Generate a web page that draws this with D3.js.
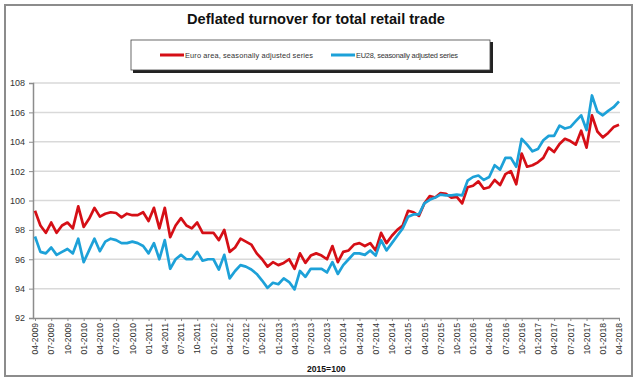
<!DOCTYPE html>
<html><head><meta charset="utf-8">
<script src="https://cdn.jsdelivr.net/npm/d3@7/dist/d3.min.js"></script>
<style>body{margin:0;background:#fff}svg{display:block;font-family:"Liberation Sans",Arial,sans-serif}</style>
</head><body><svg id="c" width="640" height="383"></svg>
<script>
const tickLabels = ["04-2009","07-2009","10-2009","01-2010","04-2010","07-2010","10-2010","01-2011","04-2011","07-2011","10-2011","01-2012","04-2012","07-2012","10-2012","01-2013","04-2013","07-2013","10-2013","01-2014","04-2014","07-2014","10-2014","01-2015","04-2015","07-2015","10-2015","01-2016","04-2016","07-2016","10-2016","01-2017","04-2017","07-2017","10-2017","01-2018","04-2018"];
const yTicks = [92,94,96,98,100,102,104,106,108];
const euroArea = [99.3,98.3,97.8,98.5,97.8,98.3,98.5,98.1,99.6,98.2,98.75,99.5,98.9,99.1,99.2,99.15,98.85,99.1,99.0,99.0,99.2,98.6,99.5,98.1,99.5,97.5,98.3,98.8,98.3,98.1,98.5,97.8,97.8,97.8,97.3,98.0,96.5,96.8,97.4,97.2,97.0,96.4,96.0,95.5,95.8,95.6,95.75,96.0,95.35,96.4,95.75,96.25,96.4,96.25,96.0,96.9,95.8,96.5,96.6,97.0,97.1,96.9,97.1,96.6,97.8,97.1,97.6,98.0,98.3,99.3,99.2,98.95,99.8,100.3,100.2,100.5,100.45,100.2,100.25,99.8,100.9,101.0,101.3,100.8,100.9,101.4,101.05,101.8,102.0,101.1,103.2,102.3,102.4,102.6,102.9,103.6,103.3,103.85,104.2,104.05,103.8,104.75,103.6,105.8,104.7,104.3,104.6,105.0,105.15];
const eu28 = [97.55,96.5,96.4,96.8,96.3,96.5,96.7,96.4,97.4,95.8,96.6,97.4,96.55,97.2,97.4,97.3,97.1,97.1,97.2,97.1,96.9,96.4,97.1,96.0,97.3,95.35,96.0,96.3,96.0,96.0,96.5,95.9,96.0,96.0,95.3,96.3,94.7,95.2,95.6,95.5,95.3,95.0,94.55,94.05,94.4,94.3,94.7,94.45,93.95,95.2,94.8,95.35,95.35,95.35,95.1,95.8,95.0,95.6,96.0,96.4,96.4,96.3,96.6,96.25,97.3,96.6,97.1,97.6,98.1,98.9,99.05,99.05,99.8,100.05,100.2,100.4,100.35,100.35,100.4,100.35,101.35,101.6,101.7,101.4,101.6,102.4,102.1,102.9,102.9,102.3,104.2,103.8,103.35,103.5,104.1,104.4,104.4,105.1,104.9,105.0,105.4,105.8,104.8,107.15,106.05,105.8,106.1,106.35,106.75];
const seriesNames = ["Euro area, seasonally adjusted series","EU28, seasonally adjusted series"];
const colors = ["#d50f16","#1da1d8"];

const svg = d3.select("#c");
// outer frame
svg.append("rect").attr("x",5).attr("y",5).attr("width",627).attr("height",371)
  .attr("fill","#fff").attr("stroke","#8c8c8c").attr("stroke-width",2);

const x = d3.scaleLinear().domain([0,108]).range([35,619]);
const y = d3.scaleLinear().domain([92,108]).range([318,83]);

// gridlines
svg.append("g").selectAll("line").data(yTicks.filter(v=>v>92)).join("line")
  .attr("x1",33).attr("x2",620).attr("y1",d=>y(d)).attr("y2",d=>y(d))
  .attr("stroke","#d9d9d9").attr("stroke-width",1.5);

// y axis
const ya = svg.append("g").attr("transform","translate(33,0)")
  .call(d3.axisLeft(y).tickValues(yTicks).tickSize(4).tickPadding(4).tickFormat(d3.format("d")));
ya.select(".domain").attr("stroke","#8c8c8c").attr("stroke-width",1.5);
ya.selectAll(".tick line").attr("stroke","#8c8c8c");
ya.selectAll("text").attr("font-size",9).attr("fill","#333").attr("font-family","Liberation Sans, Arial");

// x axis
const xa = svg.append("g").attr("transform","translate(0,318)")
  .call(d3.axisBottom(x).tickValues(d3.range(0,109,3)).tickSize(3).tickFormat((d,i)=>tickLabels[i]));
xa.select(".domain").attr("stroke","#8c8c8c").attr("stroke-width",1.5).attr("d","M33,0.5H620");
xa.selectAll(".tick line").attr("stroke","#8c8c8c");
xa.selectAll("text").attr("font-size",8.6).attr("fill","#333").attr("font-family","Liberation Sans, Arial")
  .attr("transform","rotate(-90)").attr("text-anchor","end").attr("dy","0.32em").attr("x",-5).attr("y",0);

// lines
const line = d3.line().x((d,i)=>x(i)).y(d=>y(d));
[euroArea, eu28].forEach((s,k)=>{
  svg.append("path").datum(s).attr("d",line).attr("fill","none")
    .attr("stroke",colors[k]).attr("stroke-width",2.7).attr("stroke-linejoin","round");
});

// title
svg.append("text").attr("x",316).attr("y",24).attr("text-anchor","middle")
  .attr("font-size",14.6).attr("font-weight","bold").attr("fill","#111").text("Deflated turnover for total retail trade");

// legend
svg.append("rect").attr("x",133).attr("y",42).attr("width",360).attr("height",31).attr("fill","#222");
svg.append("rect").attr("x",131).attr("y",40).attr("width",359).attr("height",30).attr("fill","#fff").attr("stroke","#444").attr("stroke-width",0.8);
const legX = [160, 331];
seriesNames.forEach((n,k)=>{
  svg.append("line").attr("x1",legX[k]).attr("x2",legX[k]+24).attr("y1",55).attr("y2",55)
    .attr("stroke",colors[k]).attr("stroke-width",3);
  svg.append("text").attr("x",legX[k]+25).attr("y",57.5).attr("font-size",7.4).attr("fill","#333")
    .attr("textLength", k===0 ? 128 : 102).text(n);
});

// base note
svg.append("text").attr("x",307).attr("y",372).attr("font-size",8.6).attr("font-weight","bold").attr("fill","#111").text("2015=100");
</script></body></html>
